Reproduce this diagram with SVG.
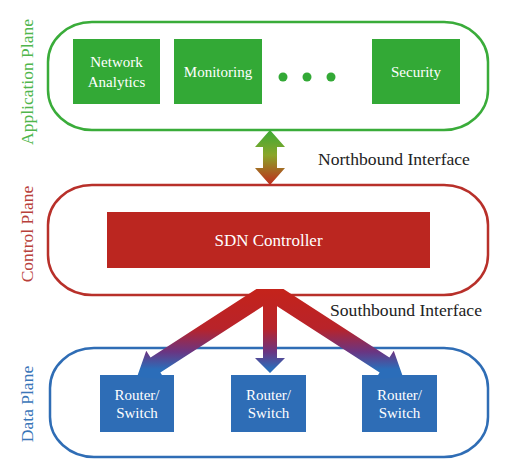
<svg xmlns="http://www.w3.org/2000/svg" width="527" height="474" viewBox="0 0 527 474" font-family="'Liberation Serif', 'Times New Roman', 'DejaVu Serif', serif">
<style>
text{font-family:"Liberation Serif","Times New Roman","DejaVu Serif",serif;}
.w{fill:#fff;font-size:15px;text-anchor:middle;}
.lab{font-size:17.5px;text-anchor:middle;}
.iface{font-size:17.6px;fill:#222;}
.plane{fill:#fff;stroke-width:2.5;}
</style>
<defs>
<linearGradient id="gNorth" gradientUnits="userSpaceOnUse" x1="0" y1="130" x2="0" y2="186">
<stop offset="0" stop-color="#3aaa35"/>
<stop offset="0.45" stop-color="#8aa52a"/>
<stop offset="1" stop-color="#c2261c"/>
</linearGradient>
<linearGradient id="gSouth" gradientUnits="userSpaceOnUse" x1="0" y1="290" x2="0" y2="376">
<stop offset="0" stop-color="#c4231b"/>
<stop offset="0.45" stop-color="#b8232a"/>
<stop offset="0.72" stop-color="#6a3582"/>
<stop offset="0.92" stop-color="#2b6db9"/>
<stop offset="1" stop-color="#2b6db9"/>
</linearGradient>
<clipPath id="clipS"><rect x="0" y="289" width="527" height="185"/></clipPath>
</defs>

<g id="application-plane">
<rect class="plane" x="48" y="22" width="440" height="108" rx="44" ry="40" stroke="#3aac3a"/>
<text class="lab" transform="translate(33,82) rotate(-90)" fill="#4fb64c">Application Plane</text>
</g>
<g id="network-analytics">
<rect x="73" y="39" width="87" height="65" fill="#33a936"/>
<text class="w" x="116.5" y="67">Network</text>
<text class="w" x="116.5" y="87">Analytics</text>
</g>
<g id="monitoring">
<rect x="174" y="39" width="88" height="65" fill="#33a936"/>
<text class="w" x="218" y="77">Monitoring</text>
</g>
<g id="ellipsis">
<circle cx="283" cy="77" r="4.5" fill="#33a936"/>
<circle cx="307" cy="77" r="4.5" fill="#33a936"/>
<circle cx="331" cy="77" r="4.5" fill="#33a936"/>
</g>
<g id="security">
<rect x="372" y="39" width="88" height="65" fill="#33a936"/>
<text class="w" x="416" y="77">Security</text>
</g>

<g id="control-plane">
<rect class="plane" x="48" y="185" width="440" height="110" rx="44" ry="40" stroke="#b8302a"/>
<text class="lab" transform="translate(33,234) rotate(-90)" fill="#b8403a">Control Plane</text>
</g>
<g id="sdn-controller">
<rect x="107" y="212" width="323" height="56" fill="#bb2620"/>
<text class="w" x="268.5" y="246" style="font-size:17px">SDN Controller</text>
</g>

<g id="data-plane">
<rect class="plane" x="50" y="348" width="438" height="109" rx="44" ry="40" stroke="#2f6db5"/>
<text class="lab" transform="translate(33,404) rotate(-90)" fill="#3a76b8">Data Plane</text>
</g>
<g id="router-switch-1">
<rect x="100" y="375" width="74" height="57" fill="#2e6db6"/>
<text class="w" x="137" y="400">Router/</text>
<text class="w" x="137" y="418">Switch</text>
</g>
<g id="router-switch-2">
<rect x="231" y="375" width="75" height="57" fill="#2e6db6"/>
<text class="w" x="268.5" y="400">Router/</text>
<text class="w" x="268.5" y="418">Switch</text>
</g>
<g id="router-switch-3">
<rect x="362" y="375" width="75" height="57" fill="#2e6db6"/>
<text class="w" x="399.5" y="400">Router/</text>
<text class="w" x="399.5" y="418">Switch</text>
</g>

<g id="connectors">
<polygon fill="url(#gNorth)" points="270,130 285,147 277,147 277,168 285,168 270,185 255,168 263,168 263,147 255,147"/>
<g clip-path="url(#clipS)" fill="url(#gSouth)">
<polygon points="274.89,298.56 160.36,372.62 164.70,379.33 137,377 146.24,350.79 150.58,357.50 265.11,283.44"/>
<polygon points="265.11,298.56 379.64,372.62 375.30,379.33 403,377 393.76,350.79 389.42,357.50 274.89,283.44"/>
<polygon points="263,289 277,289 277,358 285,358 270,373 255,358 263,358"/>
</g>
</g>
<text class="iface" x="318" y="165">Northbound Interface</text>
<text class="iface" x="330" y="316">Southbound Interface</text>
</svg>
